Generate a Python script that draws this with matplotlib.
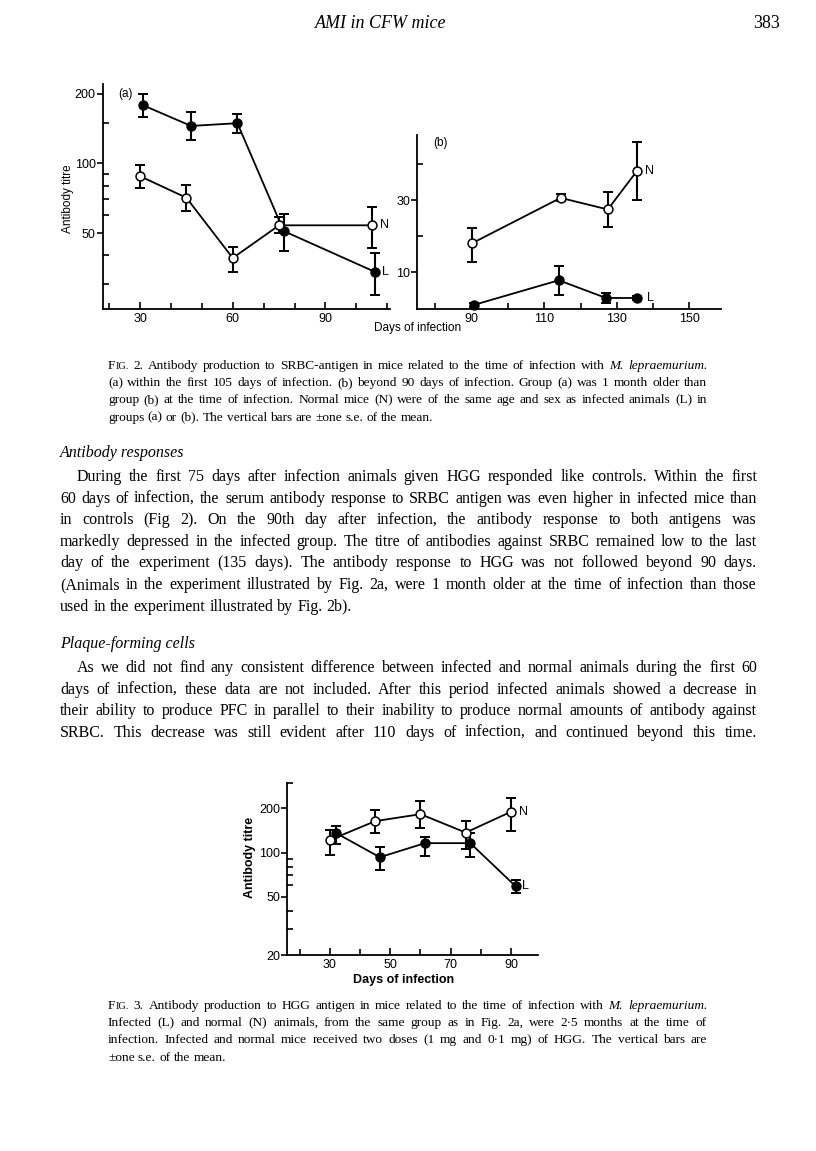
import matplotlib
matplotlib.use('Agg')
import matplotlib.pyplot as plt
from matplotlib.ticker import FixedLocator, FixedFormatter, NullFormatter
from matplotlib.font_manager import findfont, FontProperties
from matplotlib.ft2font import FT2Font
import numpy as np

# ---------------- data ----------------
# Fig 2a (SRBC, first 105 days)
f2a_days_L = [31, 46.5, 61.5, 76.5, 106]
f2a_L = [178, 145, 149, 51, 34]
f2a_L_hi = [200, 167, 164, 60.5, 41]
f2a_L_lo = [159, 126, 135, 42, 27]
f2a_days_N = [30, 45, 60, 75, 105]
f2a_N = [88, 71, 39, 54, 54]
f2a_N_hi = [98.6, 81, 43.6, 58.5, 65]
f2a_N_lo = [78.4, 62, 34, 50, 43]

# Fig 2b (SRBC, beyond 90 days)
f2b_days_N = [90, 114.5, 127.5, 135.5]
f2b_N = [18, 30.6, 27.4, 38]
f2b_N_hi = [22.4, 31.6, 32.1, 46.2]
f2b_N_lo = [12.9, 29.6, 22.5, 30]
f2b_days_L = [90.5, 114, 127, 135.5]
f2b_L = [0.95, 7.8, 2.9, 2.9]
f2b_L_hi = [1.6, 11.8, 4.4, 3.4]
f2b_L_lo = [0.4, 3.8, 1.5, 2.4]

# Fig 3 (HGG)
f3_days_N = [30, 45, 60, 75, 90]
f3_N = [122, 164, 183, 137, 190]
f3_N_hi = [143, 195, 225, 164, 237]
f3_N_lo = [96, 137, 148, 106, 141]
f3_days_L = [32, 46.5, 61.5, 76.5, 91.5]
f3_L = [136, 93, 116, 116, 59]
f3_L_hi = [151, 109, 128.5, 136, 65]
f3_L_lo = [114, 76, 95, 93, 52.7]

# ticks
f2a_xmaj = [30, 60, 90]
f2a_xmin = [20, 40, 50, 70, 80, 100, 110]
f2a_ymaj = [50, 100, 200]
f2a_ymin = [30, 40, 60, 70, 80, 90, 150]
f2b_xmaj = [90, 110, 130, 150]
f2b_xmin = [80, 100, 120, 140]
f2b_ymaj = [10, 30]
f2b_ymin = [20, 40]
f3_xmaj = [30, 50, 70, 90]
f3_xmin = [20, 40, 60, 80]
f3_ymaj = [20, 50, 100, 200]
f3_ymin = [30, 40, 60, 70, 80, 90, 300]

# ---------------- figure ----------------
W, H = 816, 1151
DPI = 100
fig = plt.figure(figsize=(W / DPI, H / DPI), dpi=DPI)
fig.patch.set_facecolor('white')
SANS = 'Liberation Sans'
SERIF = 'Liberation Serif'


def ax_px(l, t, r, b):
    return fig.add_axes([l / W, 1 - b / H, (r - l) / W, (b - t) / H])


def style_axes(ax, xmaj, xmin, ymaj, ymin, log=False):
    if log:
        ax.set_yscale('log')
    ax.set_facecolor('none')
    for s in ['top', 'right']:
        ax.spines[s].set_visible(False)
    for s in ['left', 'bottom']:
        ax.spines[s].set_linewidth(1.3)
    ax.xaxis.set_major_locator(FixedLocator(xmaj))
    ax.xaxis.set_minor_locator(FixedLocator(xmin))
    ax.xaxis.set_major_formatter(FixedFormatter([str(v) for v in xmaj]))
    ax.xaxis.set_minor_formatter(NullFormatter())
    ax.yaxis.set_major_locator(FixedLocator(ymaj))
    ax.yaxis.set_minor_locator(FixedLocator(ymin))
    ax.yaxis.set_major_formatter(FixedFormatter([str(v) for v in ymaj]))
    ax.yaxis.set_minor_formatter(NullFormatter())
    ax.tick_params(axis='x', which='major', direction='in', length=5, width=1.2, pad=3, labelsize=9)
    ax.tick_params(axis='x', which='minor', direction='in', length=4, width=1.2)
    ax.tick_params(axis='y', which='major', direction='out', length=4, width=1.2, pad=1, labelsize=9)
    ax.tick_params(axis='y', which='minor', direction='in', length=4, width=1.2)
    for lab in ax.get_xticklabels() + ax.get_yticklabels():
        lab.set_family(SANS)


def series(ax, x, y, lo, hi, filled, label, off):
    y = np.array(y, float)
    yerr = [y - np.array(lo), np.array(hi) - y]
    ax.errorbar(x, y, yerr=yerr, fmt='none', ecolor='black', elinewidth=1.5,
                capsize=3.5, capthick=1.4, zorder=2)
    ax.plot(x, y, '-', color='black', lw=1.3, zorder=3, clip_on=False)
    ax.plot(x, y, 'o', ms=6.4, mfc='black' if filled else 'white', mec='black',
            mew=1.1, zorder=4, clip_on=False)
    ax.annotate(label, (x[-1], y[-1]), xytext=(off, 0), textcoords='offset points',
                va='center', ha='left', fontsize=9, family=SANS)


# Fig 2a
axa = ax_px(102.7, 84, 390, 309)
style_axes(axa, f2a_xmaj, f2a_xmin, f2a_ymaj, f2a_ymin, log=True)
axa.set_xlim(17.9, 110.9)
axa.set_ylim(23.5, 220)
series(axa, f2a_days_L, f2a_L, f2a_L_lo, f2a_L_hi, True, 'L', 5)
series(axa, f2a_days_N, f2a_N, f2a_N_lo, f2a_N_hi, False, 'N', 6)
fig.text(125 / W, 1 - 94 / H, '(a)', fontsize=8.5, family=SANS, ha='center', va='center')

# Fig 2b
axb = ax_px(417.3, 135, 721, 309)
style_axes(axb, f2b_xmaj, f2b_xmin, f2b_ymaj, f2b_ymin)
axb.set_xlim(75, 158.7)
axb.set_ylim(-0.15, 48)
series(axb, f2b_days_N, f2b_N, f2b_N_lo, f2b_N_hi, False, 'N', 6)
series(axb, f2b_days_L, f2b_L, f2b_L_lo, f2b_L_hi, True, 'L', 7)
fig.text(441 / W, 1 - 143 / H, '(b)', fontsize=8.5, family=SANS, ha='center', va='center')

fig.text(68 / W, 1 - 199 / H, 'Antibody titre', rotation=90, fontsize=8.5, family=SANS,
         ha='center', va='center')
fig.text(418 / W, 1 - 328 / H, 'Days of infection', fontsize=8.5, family=SANS,
         ha='center', va='center')

# Fig 3
ax3 = ax_px(287.3, 782.7, 538.3, 955)
style_axes(ax3, f3_xmaj, f3_xmin, f3_ymaj, f3_ymin, log=True)
ax3.set_xlim(15.85, 99.05)
ax3.set_ylim(20, 300)
series(ax3, f3_days_N, f3_N, f3_N_lo, f3_N_hi, False, 'N', 6)
series(ax3, f3_days_L, f3_L, f3_L_lo, f3_L_hi, True, 'L', 5)
fig.text(250.5 / W, 1 - 857 / H, 'Antibody titre', rotation=90, fontsize=9, family=SANS,
         fontweight='bold', ha='center', va='center')
fig.text(404 / W, 1 - 980 / H, 'Days of infection', fontsize=9, family=SANS,
         fontweight='bold', ha='center', va='center')

# ---------------- page text (justified, measured with font advances) ----------------
_fonts = {}


def get_font(style):
    if style not in _fonts:
        _fonts[style] = FT2Font(findfont(FontProperties(family=SERIF, style=style)))
    return _fonts[style]


_cache = {}


def measure(s, size, style='normal'):
    key = (s, size, style)
    if key not in _cache:
        f = get_font(style)
        f.set_size(size, DPI)
        _cache[key] = sum(f.load_char(ord(c)).linearHoriAdvance for c in s) / 65536.0
    return _cache[key]


def parse_word(w, size):
    if w.startswith('*') and w.endswith('*'):
        return [(w[1:-1], size, 'italic')]
    if w.startswith('FIG.'):
        return [('F', size, 'normal'), ('IG.' + w[4:], size * 0.78, 'normal')]
    return [(w, size, 'normal')]


def word_width(p):
    return sum(measure(s, sz, st) for s, sz, st in p)


def draw_line(line, x0, x1, y, size, justify):
    words = line.split(' ')
    parsed = [parse_word(w, size) for w in words]
    widths = [word_width(p) for p in parsed]
    sp = measure(' ', size)
    if justify and len(words) > 1:
        gap = (x1 - x0 - sum(widths)) / (len(words) - 1)
        gap = max(gap, 0.6 * sp)
    else:
        gap = sp
    x = x0
    for p, wd in zip(parsed, widths):
        xx = x
        for s, sz, st in p:
            fig.text(xx / W, 1 - y / H, s, fontsize=sz, family=SERIF, style=st,
                     va='baseline', ha='left')
            xx += measure(s, sz, st)
        x += wd + gap


def block(lines, x0, x1, y0, dy, size, justify_flags, indent=0):
    for i, (ln, j) in enumerate(zip(lines, justify_flags)):
        xs = x0 + (indent if i == 0 else 0)
        draw_line(ln, xs, x1, y0 + i * dy, size, j)


# header
fig.text(381 / W, 1 - 28 / H, 'AMI in CFW mice', fontsize=13, family=SERIF, style='italic',
         ha='center', va='baseline')
fig.text(780 / W, 1 - 28 / H, '383', fontsize=13, family=SERIF, ha='right', va='baseline')

cap2 = [
    'FIG. 2. Antibody production to SRBC-antigen in mice related to the time of infection with *M.* *lepraemurium.*',
    '(a) within the first 105 days of infection. (b) beyond 90 days of infection. Group (a) was 1 month older than',
    'group (b) at the time of infection. Normal mice (N) were of the same age and sex as infected animals (L) in',
    'groups (a) or (b). The vertical bars are ±one s.e. of the mean.',
]
block(cap2, 108, 707, 369, 17.2, 9.6, [True, True, True, False])

fig.text(60 / W, 1 - 457 / H, 'Antibody responses', fontsize=11.5, family=SERIF, style='italic',
         va='baseline')
para1 = [
    'During the first 75 days after infection animals given HGG responded like controls. Within the first',
    '60 days of infection, the serum antibody response to SRBC antigen was even higher in infected mice than',
    'in controls (Fig 2). On the 90th day after infection, the antibody response to both antigens was',
    'markedly depressed in the infected group. The titre of antibodies against SRBC remained low to the last',
    'day of the experiment (135 days). The antibody response to HGG was not followed beyond 90 days.',
    '(Animals in the experiment illustrated by Fig. 2a, were 1 month older at the time of infection than those',
    'used in the experiment illustrated by Fig. 2b).',
]
block(para1, 60, 757, 481, 21.6, 11.5, [True] * 6 + [False], indent=17)

fig.text(60 / W, 1 - 648 / H, 'Plaque-forming cells', fontsize=11.5, family=SERIF, style='italic',
         va='baseline')
para2 = [
    'As we did not find any consistent difference between infected and normal animals during the first 60',
    'days of infection, these data are not included. After this period infected animals showed a decrease in',
    'their ability to produce PFC in parallel to their inability to produce normal amounts of antibody against',
    'SRBC. This decrease was still evident after 110 days of infection, and continued beyond this time.',
]
block(para2, 60, 757, 672, 21.6, 11.5, [True] * 4, indent=17)

cap3 = [
    'FIG. 3. Antibody production to HGG antigen in mice related to the time of infection with *M.* *lepraemurium.*',
    'Infected (L) and normal (N) animals, from the same group as in Fig. 2a, were 2·5 months at the time of',
    'infection. Infected and normal mice received two doses (1 mg and 0·1 mg) of HGG. The vertical bars are',
    '±one s.e. of the mean.',
]
block(cap3, 108, 707, 1009, 17.2, 9.6, [True, True, True, False])

fig.savefig('out.png', dpi=DPI, facecolor='white')
